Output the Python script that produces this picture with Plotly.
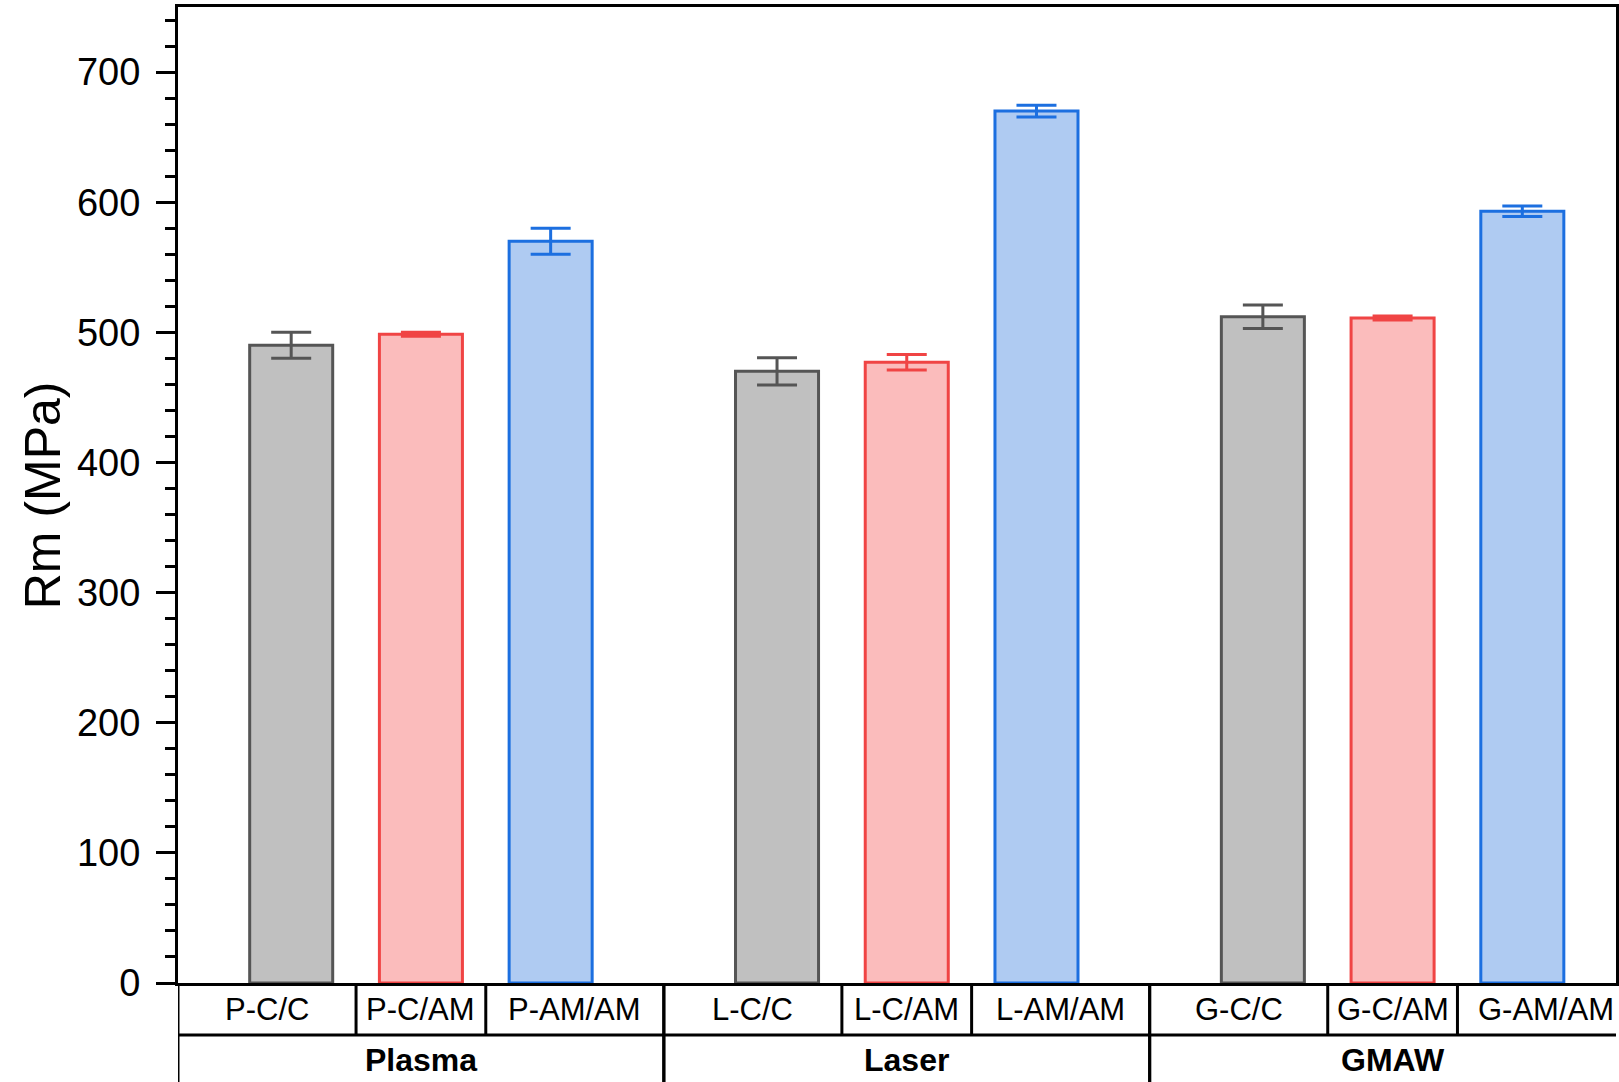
import plotly.graph_objects as go

# ---- data -------------------------------------------------------------
groups = ["Plasma", "Laser", "GMAW"]
joint_types = ["C/C", "C/AM", "AM/AM"]
sample_labels = [
    ["P-C/C", "P-C/AM", "P-AM/AM"],
    ["L-C/C", "L-C/AM", "L-AM/AM"],
    ["G-C/C", "G-C/AM", "G-AM/AM"],
]
# tensile strength Rm (MPa), per process group, per joint type
rm_cc = [490, 470, 512]
rm_cc_err = [10, 10.5, 9]
rm_cam = [498.5, 477, 511]
rm_cam_err = [1.5, 6, 1.5]
rm_amam = [570, 670, 593]
rm_amam_err = [10, 4.5, 4]

series = [
    (rm_cc, rm_cc_err, "#C0C0C0", "#555555"),
    (rm_cam, rm_cam_err, "#FBBCBC", "#F04444"),
    (rm_amam, rm_amam_err, "#AFCBF2", "#1C6FE0"),
]

# ---- geometry of the grouped axis --------------------------------------
GROUP_STEP = 3.745          # distance between first bars of consecutive groups
PAD = (GROUP_STEP - 2) / 2  # space between outer bar and group border
BAR_W = 0.64
X_MIN = -PAD
X_MAX = X_MIN + (1619 - 178) / 130.0

FONT = "Arial, Liberation Sans, sans-serif"

fig = go.Figure()
for j, (vals, errs, fill, edge) in enumerate(series):
    xs = [g * GROUP_STEP + j for g in range(len(groups))]
    fig.add_trace(go.Bar(
        x=xs, y=vals, width=BAR_W, name=joint_types[j],
        marker=dict(color=fill, line=dict(color=edge, width=3)),
        error_y=dict(type="data", array=errs, visible=True,
                     color=edge, thickness=3, width=20),
        showlegend=False,
    ))

# ---- table of sample / group labels under the axis ---------------------
ROW1 = -0.0532   # bottom of the sample-label row (paper units)
ROW2 = -0.115    # bottom of the group row
line = dict(color="black", width=3)
shapes = []
annotations = []
for g, gname in enumerate(groups):
    left = g * GROUP_STEP - PAD
    right = g * GROUP_STEP + 2 + PAD
    shapes.append(dict(type="line", xref="x", yref="paper",
                       x0=left, x1=left, y0=0, y1=ROW2, line=line))
    shapes.append(dict(type="line", xref="x", yref="paper",
                       x0=right, x1=right, y0=0, y1=ROW2, line=line))
    edges = [left, g * GROUP_STEP + 0.5, g * GROUP_STEP + 1.5, right]
    for k in (1, 2):
        shapes.append(dict(type="line", xref="x", yref="paper",
                           x0=edges[k], x1=edges[k], y0=0, y1=ROW1, line=line))
    for k, lab in enumerate(sample_labels[g]):
        annotations.append(dict(
            x=(edges[k] + edges[k + 1]) / 2, y=-0.0274, xref="x", yref="paper",
            text=lab, showarrow=False, xanchor="center", yanchor="middle",
            font=dict(family=FONT, size=31, color="black")))
    annotations.append(dict(
        x=g * GROUP_STEP + 1, y=-0.0788, xref="x", yref="paper",
        text=f"<b>{gname}</b>", showarrow=False, xanchor="center",
        yanchor="middle", font=dict(family=FONT, size=32, color="black")))

shapes.append(dict(type="line", xref="x", yref="paper",
                   x0=X_MIN, x1=X_MAX + 1, y0=ROW1, y1=ROW1, line=line))

annotations.append(dict(
    x=-0.0937, y=0.5, xref="paper", yref="paper", text="Rm (MPa)",
    textangle=-90, showarrow=False, xanchor="center", yanchor="middle",
    font=dict(family=FONT, size=50, color="black")))

fig.update_layout(
    width=1619, height=1082,
    margin=dict(l=178, r=0, t=7, b=99),
    paper_bgcolor="white", plot_bgcolor="white",
    barmode="overlay",
    shapes=shapes, annotations=annotations,
    font=dict(family=FONT, color="black"),
    xaxis=dict(range=[X_MIN, X_MAX], showline=True, linecolor="black",
               linewidth=3, mirror=True, ticks="", showticklabels=False,
               showgrid=False, zeroline=False),
    yaxis=dict(range=[0, 750], showline=True, linecolor="black", linewidth=3,
               mirror=True, ticks="outside", ticklen=19, tickwidth=3,
               tickcolor="black", dtick=100, tick0=0,
               tickfont=dict(family=FONT, size=38, color="black"),
               ticklabelstandoff=8,
               minor=dict(dtick=20, ticks="outside", ticklen=10,
                          tickwidth=3, tickcolor="black"),
               showgrid=False, zeroline=False),
)

fig.write_html("out.html")
